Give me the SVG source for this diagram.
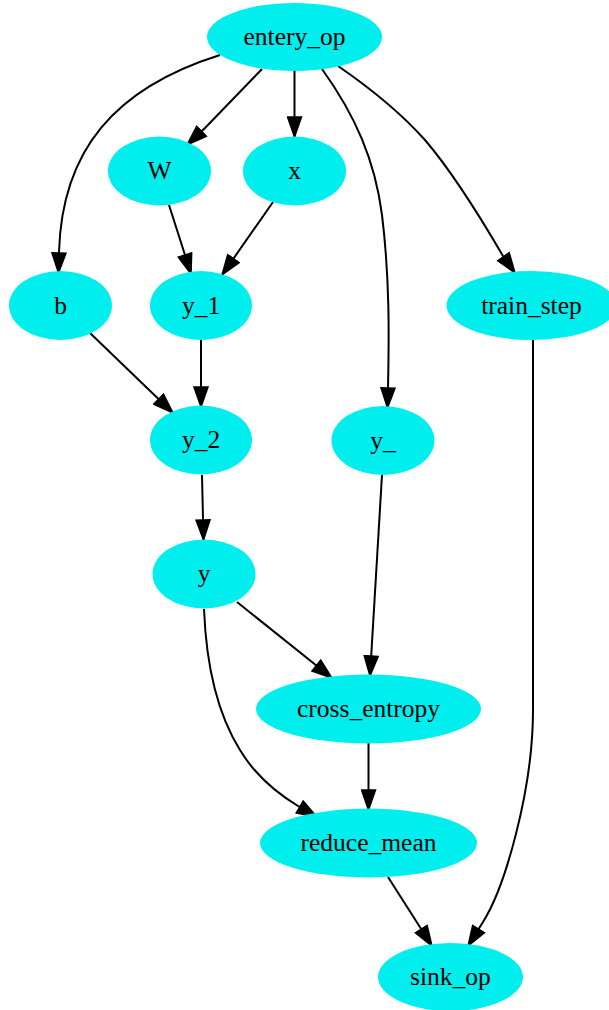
<svg xmlns="http://www.w3.org/2000/svg" width="609" height="1010" viewBox="0 0 609 1010">
  <style>
    .node ellipse { fill: #00eeee; stroke: none; }
    .node text { font-family: "Liberation Serif", "Times New Roman", serif; font-size: 25.5px; fill: #000; text-anchor: middle; }
    .edge path { fill: none; stroke: #000; stroke-width: 2; marker-end: url(#arrow); }
  </style>
  <defs>
    <marker id="arrow" viewBox="0 0 22 16" refX="21" refY="8" markerWidth="22" markerHeight="16" markerUnits="userSpaceOnUse" orient="auto">
      <path d="M1,1 L21,8 L1,15 z" fill="#000" stroke="#000" stroke-width="1.5"/>
    </marker>
  </defs>
  <rect width="609" height="1010" fill="#fff"/>

  <g id="edges">
    <g class="edge" id="e_entery_b"><path d="M220,55 C115,88 62,150 59,252 L58.5,273"/></g>
    <g class="edge" id="e_entery_W"><path d="M262,69 L205,128 L187,145"/></g>
    <g class="edge" id="e_entery_x"><path d="M294.5,71 L294.5,137"/></g>
    <g class="edge" id="e_entery_y_"><path d="M322,69 C355,115 375,160 382,215 C390,280 389,340 388,388 L387.5,408"/></g>
    <g class="edge" id="e_entery_train"><path d="M338,66 C370,88 400,112 425,140 C455,175 482,220 503,256 L515,273"/></g>
    <g class="edge" id="e_W_y1"><path d="M169,205 L185,255 L191,274"/></g>
    <g class="edge" id="e_x_y1"><path d="M273,202 L222,275"/></g>
    <g class="edge" id="e_b_y2"><path d="M90,333 L173,413"/></g>
    <g class="edge" id="e_y1_y2"><path d="M201,340 L201,407"/></g>
    <g class="edge" id="e_y2_y"><path d="M202,475 L203.5,540"/></g>
    <g class="edge" id="e_y_ce"><path d="M237,602 L332,678"/></g>
    <g class="edge" id="e_y__ce"><path d="M382,475 L370,676"/></g>
    <g class="edge" id="e_y_rm"><path d="M204,609 C206,660 215,710 240,750 C255,775 275,792 298,806 L317,817"/></g>
    <g class="edge" id="e_ce_rm"><path d="M368.5,743 L368.5,810"/></g>
    <g class="edge" id="e_rm_sink"><path d="M388,877 L432,946"/></g>
    <g class="edge" id="e_train_sink"><path d="M533,340 L533,710 C533,790 505,887 483,922 L468,946"/></g>
  </g>

  <g class="node" id="n_entery_op"><ellipse cx="294.5" cy="37" rx="87.5" ry="34"/><text x="294.5" y="45">entery_op</text></g>
  <g class="node" id="n_W"><ellipse cx="159.5" cy="171" rx="51.5" ry="34.5"/><text x="159.5" y="179">W</text></g>
  <g class="node" id="n_x"><ellipse cx="294.5" cy="171" rx="51.5" ry="34.5"/><text x="294.5" y="179">x</text></g>
  <g class="node" id="n_b"><ellipse cx="60.5" cy="305.5" rx="51.5" ry="34.5"/><text x="60.5" y="313.5">b</text></g>
  <g class="node" id="n_y_1"><ellipse cx="201" cy="305.5" rx="51" ry="34.5"/><text x="201" y="313.5">y_1</text></g>
  <g class="node" id="n_train_step"><ellipse cx="531.5" cy="305.5" rx="85" ry="34.5"/><text x="531.5" y="313.5">train_step</text></g>
  <g class="node" id="n_y_2"><ellipse cx="201" cy="440" rx="51" ry="34.5"/><text x="201" y="448">y_2</text></g>
  <g class="node" id="n_y_"><ellipse cx="383" cy="440.5" rx="51.5" ry="34.5"/><text x="383" y="448.5">y_</text></g>
  <g class="node" id="n_y"><ellipse cx="204" cy="574" rx="51.5" ry="34.5"/><text x="204" y="582">y</text></g>
  <g class="node" id="n_cross_entropy"><ellipse cx="368.5" cy="709" rx="112.5" ry="34.5"/><text x="368.5" y="717">cross_entropy</text></g>
  <g class="node" id="n_reduce_mean"><ellipse cx="368.5" cy="843" rx="108.5" ry="34.5"/><text x="368.5" y="851">reduce_mean</text></g>
  <g class="node" id="n_sink_op"><ellipse cx="450.5" cy="977" rx="72.5" ry="34"/><text x="450.5" y="985">sink_op</text></g>
</svg>
